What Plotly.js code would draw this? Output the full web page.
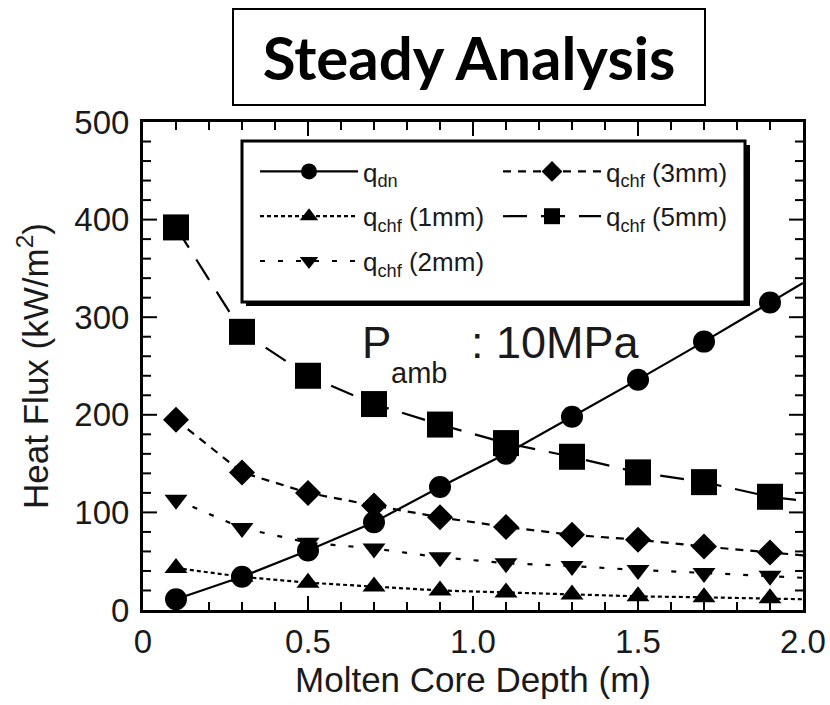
<!DOCTYPE html>
<html>
<head>
<meta charset="utf-8">
<script src="https://cdn.plot.ly/plotly-3.0.1.min.js"></script>
<style>html,body{margin:0;padding:0;background:#fff;}#chart{width:830px;height:705px;}</style>
</head>
<body>
<div id="chart"></div>
<script>
// Molten core depth (m); last entry is the line's end at the right edge (no marker)
const depth = [0.1, 0.3, 0.5, 0.7, 0.9, 1.1, 1.3, 1.5, 1.7, 1.9, 2.0];
const qDn     = [11, 34, 61, 90, 126, 160, 198, 236, 275, 315, 335];
const qChf1mm = [43, 34, 28, 24, 20, 18, 16, 14, 13, 12, 11];
const qChf2mm = [113, 84, 69, 63, 54, 48, 45, 41, 38, 35, 33];
const qChf3mm = [195, 141, 120, 107, 95, 85, 77, 72, 65, 59, 56];
const qChf5mm = [392, 285, 240, 211, 190, 171, 157, 141, 131, 116, 112];

const xLabelAlias = {'0.0': '0'};
const xRange = [0, 2];
const yRange = [0, 500];
const xMajorStep = 0.5, xMinorStep = 0.1;
const yMajorStep = 100, yMinorStep = 20;

const FONT = 'Liberation Sans, Arial, sans-serif';
const INK = '#1a1a1a';

function sizes(s) { return depth.map((d, i) => i === depth.length - 1 ? 0 : s); }

function tr(name, y, symbol, msize, dash, legend, group) {
  return {
    x: depth, y: y, name: name, type: 'scatter', mode: 'lines+markers',
    line: {color: '#000', width: 2.2, dash: dash},
    marker: {symbol: symbol, size: sizes(msize), color: '#000', opacity: 1, line: {width: 0}},
    legend: legend, legendgroup: group
  };
}

const data = [
  tr('q<sub>dn</sub>', qDn, 'circle', 22, 'solid', 'legend', 'a'),
  tr('q<sub>chf</sub> (1mm)', qChf1mm, 'triangle-up', 20, '4px,3px', 'legend', 'b'),
  tr('q<sub>chf</sub> (2mm)', qChf2mm, 'triangle-down', 20, '5px,13px', 'legend', 'c'),
  tr('q<sub>chf</sub> (3mm)', qChf3mm, 'diamond', 20, '8px,7px', 'legend2', 'd'),
  tr('q<sub>chf</sub> (5mm)', qChf5mm, 'square', 26, '24px,14px', 'legend2', 'e')
];

const L = 143, R = 803, T = 122, B = 610;
const W = R - L, H = B - T;
const px = v => (v - L) / W;
const py = v => (B - v) / H;

// inward frame ticks on all four edges (axis decoration, in paper units)
function tickValues(range, step) {
  const out = [];
  const n = Math.round((range[1] - range[0]) / step);
  for (let i = 1; i < n; i++) out.push(+(range[0] + i * step).toFixed(6));
  return out;
}
function isMajor(v, step) { return Math.abs(v / step - Math.round(v / step)) < 1e-6; }
const tickShapes = [];
const TICK = {color: '#000000', width: 2};
tickValues(xRange, xMinorStep).forEach(v => {
  const f = (v - xRange[0]) / (xRange[1] - xRange[0]);
  const len = (isMajor(v, xMajorStep) ? 14 : 8) / H;
  tickShapes.push({type: 'line', xref: 'paper', yref: 'paper', x0: f, x1: f, y0: 0, y1: len, line: TICK, layer: 'above'});
  tickShapes.push({type: 'line', xref: 'paper', yref: 'paper', x0: f, x1: f, y0: 1, y1: 1 - len, line: TICK, layer: 'above'});
});
tickValues(yRange, yMinorStep).forEach(v => {
  const f = (v - yRange[0]) / (yRange[1] - yRange[0]);
  const len = (isMajor(v, yMajorStep) ? 14 : 8) / W;
  tickShapes.push({type: 'line', xref: 'paper', yref: 'paper', y0: f, y1: f, x0: 0, x1: len, line: TICK, layer: 'above'});
  tickShapes.push({type: 'line', xref: 'paper', yref: 'paper', y0: f, y1: f, x0: 1, x1: 1 - len, line: TICK, layer: 'above'});
});

const legendCommon = {
  xanchor: 'left', yanchor: 'top', bgcolor: 'rgba(0,0,0,0)', borderwidth: 0,
  itemwidth: 98, tracegroupgap: 8, font: {family: FONT, size: 26, color: INK}
};

const layout = {
  width: 830, height: 705,
  margin: {l: L, r: 830 - R, t: T, b: 705 - B},
  paper_bgcolor: '#ffffff', plot_bgcolor: '#ffffff',
  showlegend: true,
  legend: Object.assign({x: px(255), y: py(148)}, legendCommon),
  legend2: Object.assign({x: px(498), y: py(148)}, legendCommon),
  xaxis: {
    range: xRange, dtick: xMajorStep, tickformat: '.1f', labelalias: xLabelAlias, ticks: '',
    showline: true, linewidth: 3, linecolor: '#000000', mirror: true,
    showgrid: false, zeroline: false,
    tickfont: {family: FONT, size: 33, color: INK},
    title: {text: 'Molten Core Depth (m)', font: {family: FONT, size: 35, color: INK}, standoff: 8}
  },
  yaxis: {
    range: yRange, dtick: yMajorStep, ticks: '',
    showline: true, linewidth: 3, linecolor: '#000000', mirror: true,
    showgrid: false, zeroline: false,
    tickfont: {family: FONT, size: 33, color: INK}, ticklabelstandoff: 4,
    title: {text: 'Heat Flux (kW/m<sup>2</sup>)', font: {family: FONT, size: 35, color: INK}, standoff: 16}
  },
  shapes: tickShapes.concat([
    {type: 'rect', xref: 'paper', yref: 'paper', x0: px(246), x1: px(750), y0: py(306), y1: py(145),
     fillcolor: '#000', line: {width: 0}, layer: 'above'},
    {type: 'rect', xref: 'paper', yref: 'paper', x0: px(242), x1: px(745), y0: py(302), y1: py(141),
     fillcolor: '#fff', line: {color: '#000', width: 3}, layer: 'above'}
  ]),
  annotations: [
    {text: '<b>Steady Analysis</b>', xref: 'paper', yref: 'paper', x: px(469), y: py(57),
     xanchor: 'center', yanchor: 'middle', showarrow: false,
     width: 470, height: 94, bordercolor: '#000', borderwidth: 2, borderpad: 0, bgcolor: '#fff',
     font: {family: 'Lato, Open Sans, sans-serif', size: 60, color: '#000'}},
    {text: 'P', xref: 'paper', yref: 'paper', x: px(360), y: py(342), xanchor: 'left', yanchor: 'middle',
     showarrow: false, font: {family: FONT, size: 44, color: INK}},
    {text: 'amb', xref: 'paper', yref: 'paper', x: px(389), y: py(373), xanchor: 'left', yanchor: 'middle',
     showarrow: false, font: {family: FONT, size: 29, color: INK}},
    {text: ': 10MPa', xref: 'paper', yref: 'paper', x: px(469), y: py(342), xanchor: 'left', yanchor: 'middle',
     showarrow: false, font: {family: FONT, size: 45, color: INK}}
  ]
};

Plotly.newPlot('chart', data, layout, {displayModeBar: false});
</script>
</body>
</html>
